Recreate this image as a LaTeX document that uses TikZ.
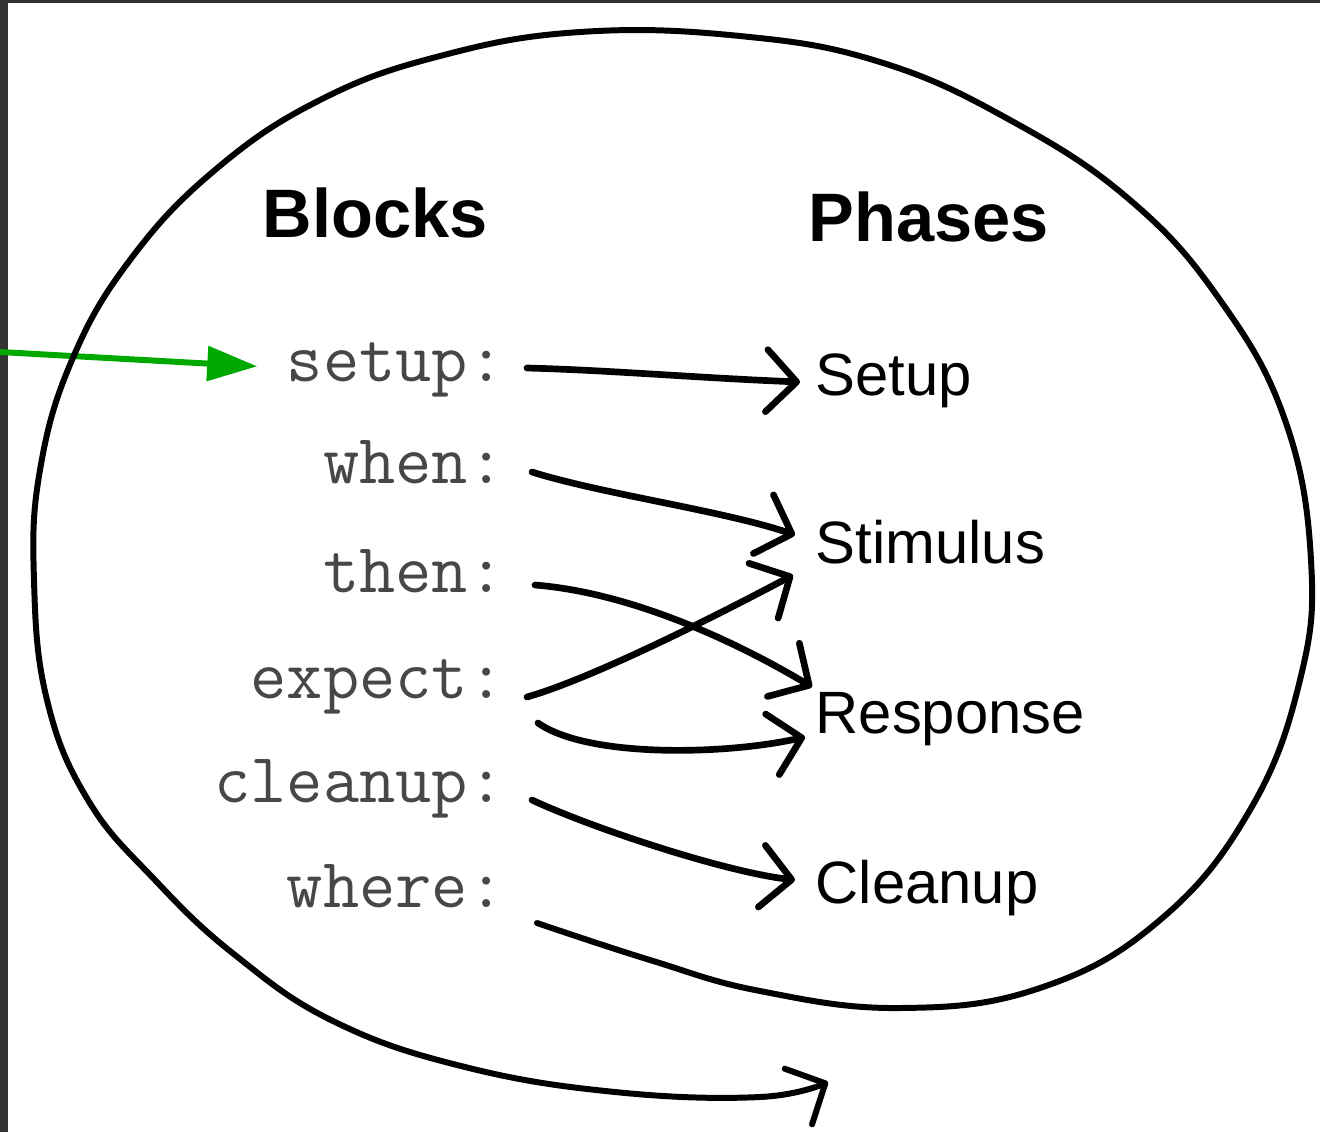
\documentclass[tikz,border=0pt]{standalone}
\usepackage{fontspec}
\setsansfont{Liberation Sans}
\usetikzlibrary{arrows.meta,calc}
\definecolor{framegray}{RGB}{51,51,51}
\definecolor{pointergreen}{RGB}{0,168,0}

\begin{document}
\begin{tikzpicture}[
        x=0.01cm, y=-0.01cm,
        headnode/.style={inner sep=0pt, anchor=base, font=\sffamily\bfseries\fontsize{19.5}{23}\selectfont},
        blocknode/.style={inner sep=0pt, anchor=base east, text=black!72, font=\ttfamily\fontsize{20}{24}\selectfont},
        phasenode/.style={inner sep=0pt, anchor=base west, font=\sffamily\fontsize{17}{20}\selectfont},
        hand/.style={line width=1.9pt, line cap=round, line join=round, -{Straight Barb[round, length=0.3cm, width=0.62cm]}},
        pointer/.style={pointergreen, line width=1.7pt, -{Triangle[length=0.5cm, width=0.34cm]}},
    ]
        \useasboundingbox (0,0) rectangle (1320,1132);
        \fill[framegray] (0,0) rectangle (8,1132);
        \fill[framegray] (0,0) rectangle (1320,3);

        %Nodes
        \node[headnode] (blocksHead) at (375,237) {Blocks};
        \node[headnode] (phasesHead) at (929,241) {Phases};

        \node[blocknode] (bSetup) at (505,381) {setup:};
        \node[blocknode] (bWhen) at (505,483) {when:};
        \node[blocknode] (bThen) at (505,592) {then:};
        \node[blocknode] (bExpect) at (505,698) {expect:};
        \node[blocknode] (bCleanup) at (505,802) {cleanup:};
        \node[blocknode] (bWhere) at (505,907) {where:};

        \node[phasenode] (pSetup) at (815,395) {Setup};
        \node[phasenode] (pStimulus) at (815,563) {Stimulus};
        \node[phasenode] (pResponse) at (815,733) {Response};
        \node[phasenode] (pCleanup) at (815,903) {Cleanup};

        \coordinate (pointerStart) at (0,352);
        \coordinate (loopStart) at ($(bWhere.base east)+(32,16)$);
        \coordinate (loopEnd) at (828,1082);

        %Lines
        \draw[pointer] (pointerStart) -- ($(bSetup.west)+(-29,-3)$);

        \draw[hand] ($(bSetup.base east)+(22,-13)$) .. controls +(80,2) and +(-100,-4) .. ($(pSetup.base west)+(-15,-13)$);
        \draw[hand] ($(bWhen.base east)+(27,-11)$) .. controls +(70,22) and +(-70,-24) .. ($(pStimulus.base west)+(-20,-28)$);
        \draw[hand] ($(bThen.base east)+(30,-7)$) .. controls +(100,8) and +(-70,-42) .. ($(pResponse.base west)+(-3,-46)$);
        \draw[hand] ($(bExpect.base east)+(22,-1)$) .. controls +(70,-20) and +(-60,32) .. ($(pStimulus.base west)+(-22,12)$);
        \draw[hand] ($(bExpect.base east)+(33,25)$) .. controls +(50,35) and +(-80,18) .. ($(pResponse.base west)+(-10,4)$);
        \draw[hand] ($(bCleanup.base east)+(27,-2)$) .. controls +(60,28) and +(-70,-8) .. ($(pCleanup.base west)+(-20,-23)$);

        % the where: loop
        \draw[hand, line width=1.7pt] plot[smooth, tension=0.7] coordinates {(loopStart) (650,960) (760,991) (900,1008)
            (1040,988) (1160,920) (1250,810) (1300,680) (1311,560) (1285,420) (1220,300) (1130,200)
            (1010,120) (880,62) (740,36) (580,32) (440,56) (320,100) (215,170) (130,260) (72,360)
            (40,470) (34,580) (47,700) (88,800) (155,880) (235,955) (335,1022) (465,1067) (615,1092)
            (760,1097) (loopEnd)};
\end{tikzpicture}
\end{document}
